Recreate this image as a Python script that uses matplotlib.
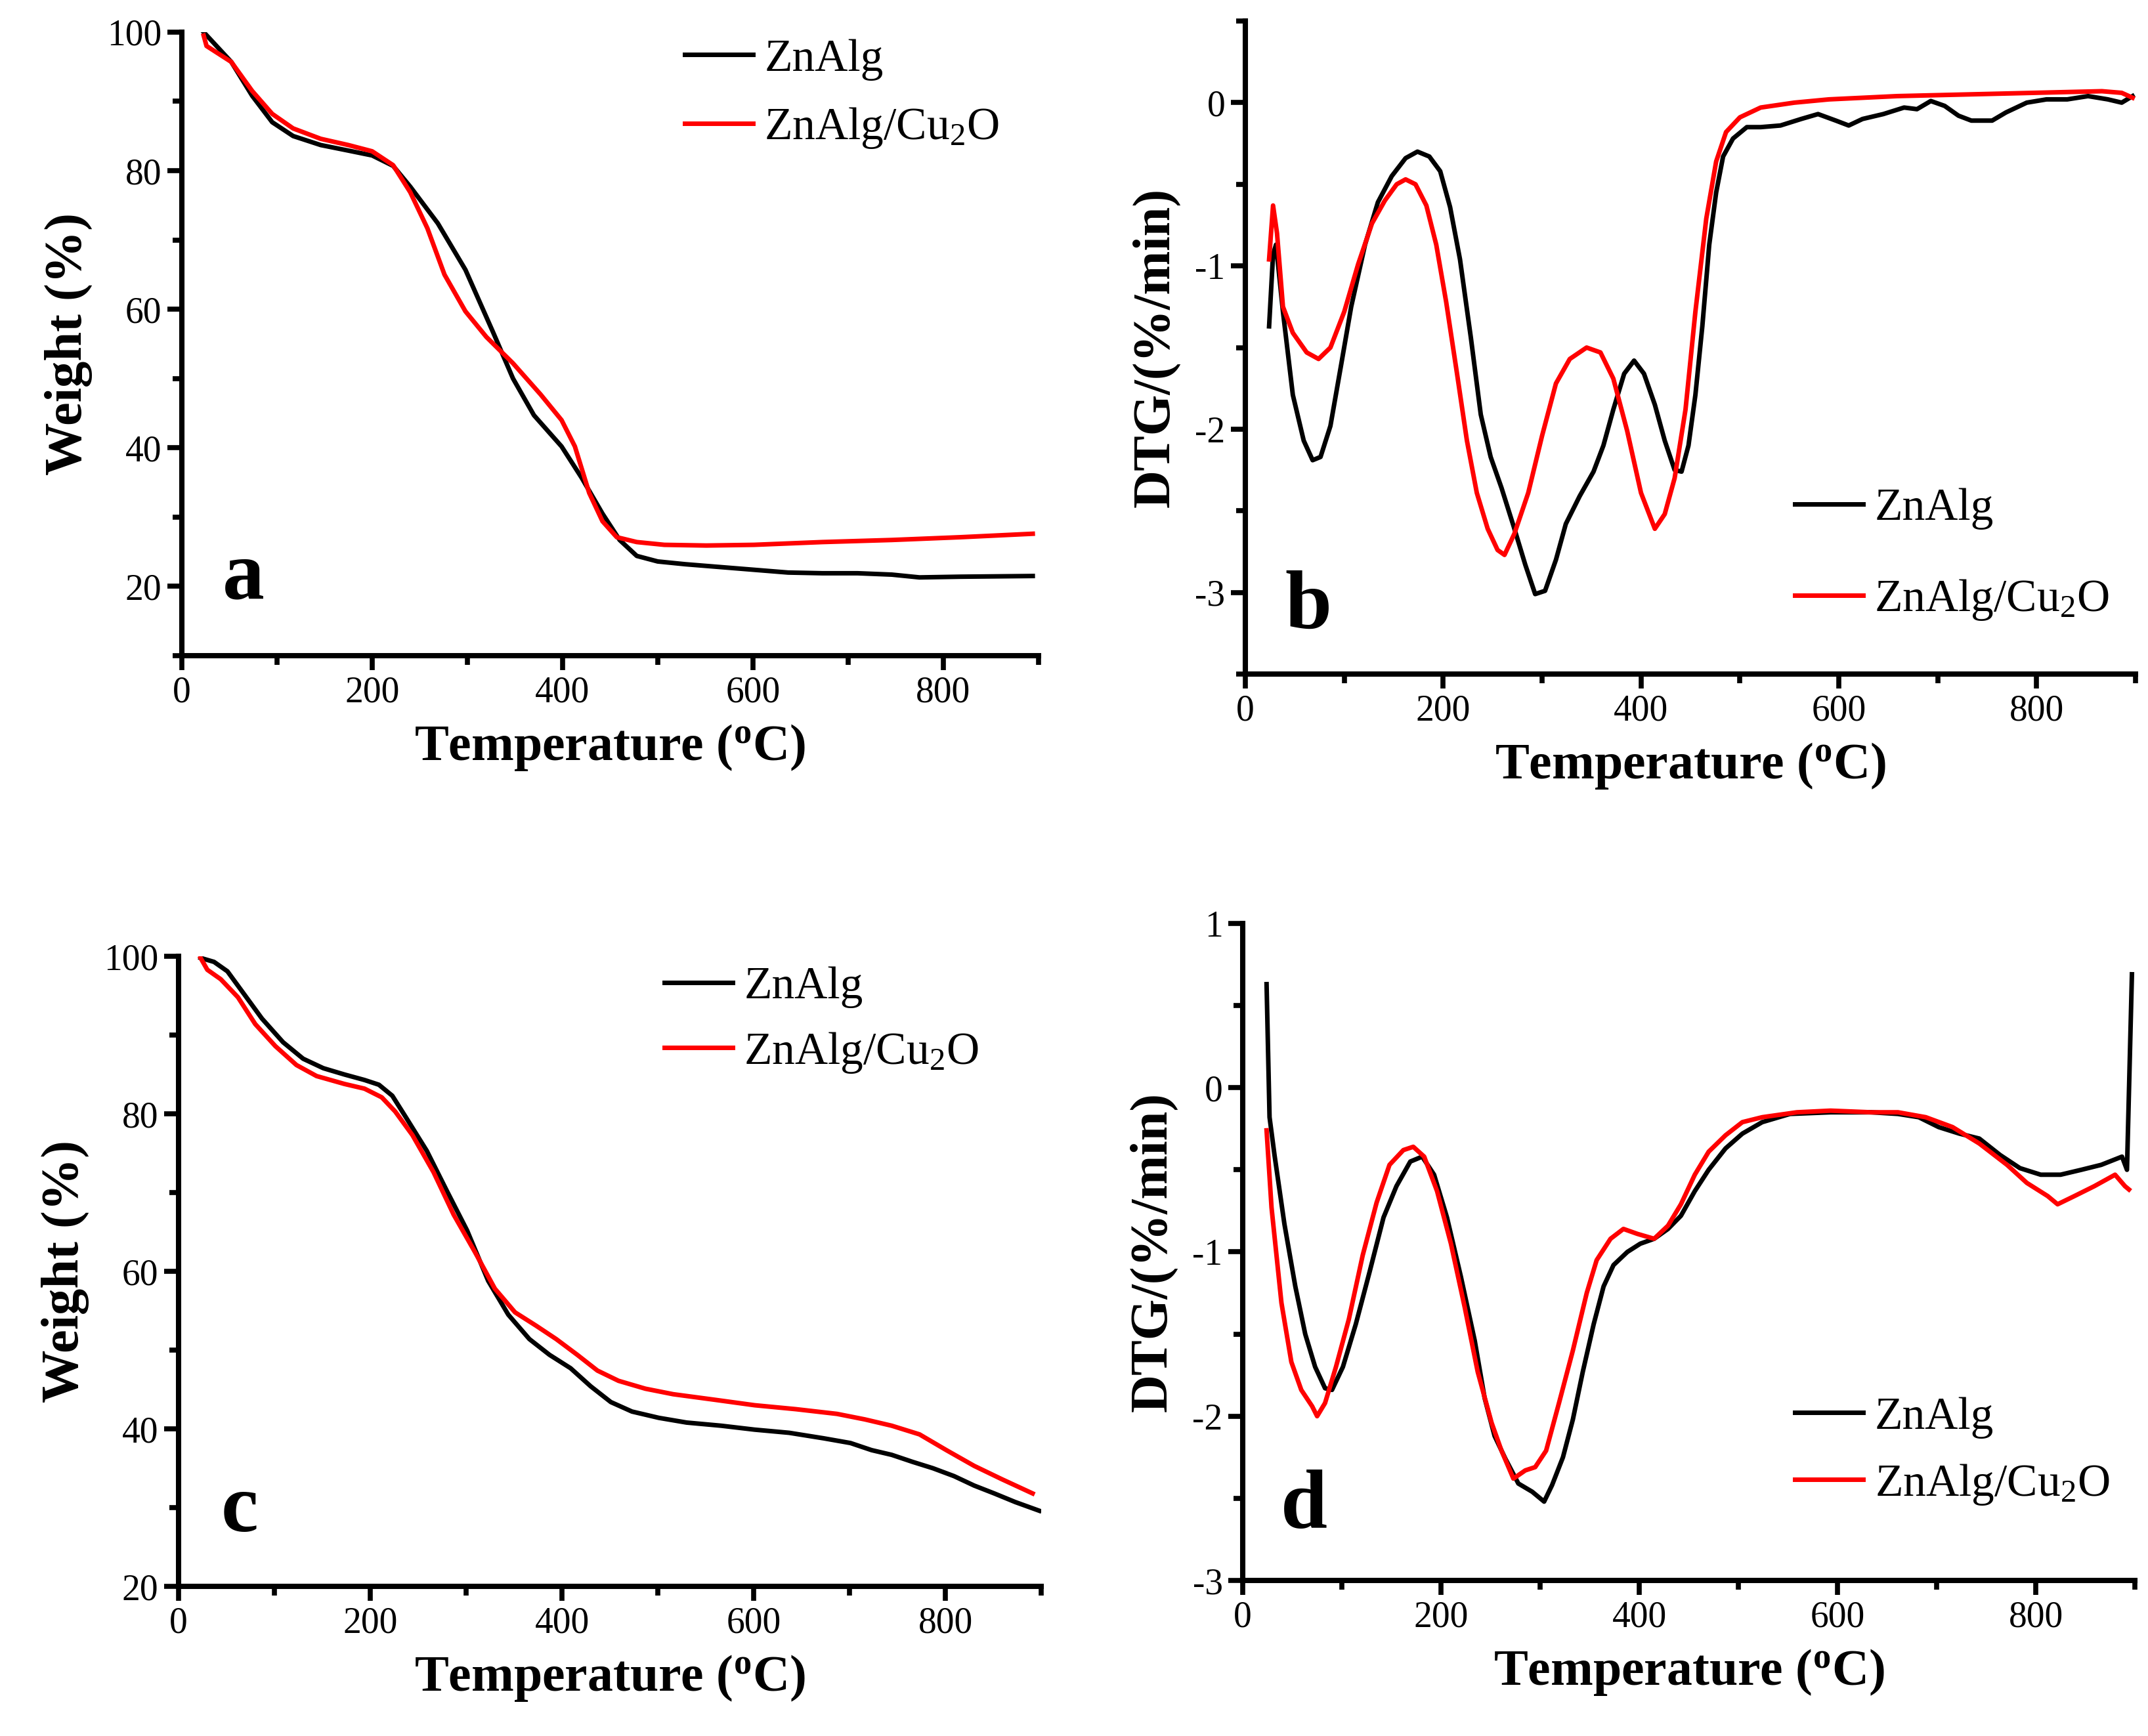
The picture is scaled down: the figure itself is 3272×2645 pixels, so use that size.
import numpy as np
import matplotlib
matplotlib.use("Agg")
import matplotlib.pyplot as plt
from matplotlib.ticker import MultipleLocator

plt.rcParams["font.family"] = ["Liberation Serif", "DejaVu Serif"]
plt.rcParams["mathtext.fontset"] = "custom"
plt.rcParams["mathtext.rm"] = "Liberation Serif"
plt.rcParams["mathtext.bf"] = "Liberation Serif:bold"
plt.rcParams["mathtext.it"] = "Liberation Serif:italic"
plt.rcParams["axes.unicode_minus"] = False

series_names = ["ZnAlg", "ZnAlg/Cu$_2$O"]
colors = ["black", "#ff0000"]

# panel a: TGA (weight %)
a_t_zn = [23, 52, 74, 95, 117, 146, 175, 200, 222, 240, 269, 298, 327, 348, 370, 399, 420, 442,
          460, 478, 500, 529, 565, 601, 637, 673, 710, 746, 775, 818, 894]
a_w_zn = [100, 95.7, 90.8, 87.0, 85.0, 83.7, 82.9, 82.2, 80.7, 77.7, 72.4, 65.7, 56.7, 50.0, 44.7,
          40.2, 35.7, 30.5, 26.7, 24.4, 23.6, 23.2, 22.8, 22.4, 22.0, 21.9, 21.9, 21.7, 21.3, 21.4, 21.5]
a_t_cu = [23, 26, 52, 74, 95, 117, 146, 175, 200, 222, 240, 258, 276, 298, 320, 348, 377, 399, 413,
          428, 442, 457, 478, 507, 551, 601, 673, 746, 818, 894]
a_w_cu = [99.5, 98.0, 95.7, 91.5, 88.2, 86.1, 84.6, 83.7, 82.8, 80.8, 76.9, 71.7, 65.0, 59.7, 56.0,
          52.2, 47.7, 44.0, 40.2, 33.5, 29.4, 27.1, 26.4, 26.0, 25.9, 26.0, 26.4, 26.7, 27.1, 27.6]

# panel b: DTG
b_t_zn = [24, 28, 31, 38, 48, 59, 68, 76, 86, 97, 107, 121, 134, 148, 162, 174, 186, 197, 207, 217,
          228, 238, 248, 259, 272, 283, 293, 303, 314, 324, 338, 352, 362, 372, 383, 393, 403, 414,
          424, 434, 441, 448, 455, 462, 469, 476, 483, 493, 507, 521, 541, 562, 579, 597, 610, 624,
          645, 666, 679, 693, 707, 721, 734, 755, 769, 790, 810, 831, 852, 872, 886, 897]
b_d_zn = [-1.37, -0.93, -0.87, -1.28, -1.79, -2.07, -2.19, -2.17, -1.98, -1.60, -1.25, -0.87, -0.61,
          -0.45, -0.34, -0.30, -0.33, -0.42, -0.64, -0.96, -1.44, -1.91, -2.17, -2.36, -2.61, -2.83,
          -3.01, -2.99, -2.80, -2.58, -2.41, -2.26, -2.10, -1.88, -1.66, -1.58, -1.66, -1.85, -2.07,
          -2.25, -2.26, -2.10, -1.79, -1.37, -0.87, -0.55, -0.33, -0.22, -0.15, -0.15, -0.14, -0.10,
          -0.07, -0.11, -0.14, -0.10, -0.07, -0.03, -0.04, 0.01, -0.02, -0.08, -0.11, -0.11, -0.06,
          0.00, 0.02, 0.02, 0.04, 0.02, 0.00, 0.04]
b_t_cu = [24, 28, 32, 38, 48, 62, 74, 86, 100, 114, 128, 141, 153, 162, 172, 183, 193, 203, 214, 224,
          234, 245, 255, 262, 272, 286, 300, 314, 328, 345, 359, 372, 386, 400, 414, 424, 434, 445,
          455, 466, 476, 486, 500, 521, 555, 590, 659, 728, 797, 866, 886, 897]
b_d_cu = [-0.96, -0.63, -0.80, -1.25, -1.41, -1.53, -1.57, -1.50, -1.28, -0.99, -0.74, -0.60, -0.50,
          -0.47, -0.50, -0.63, -0.87, -1.22, -1.66, -2.07, -2.39, -2.61, -2.74, -2.77, -2.64, -2.39,
          -2.04, -1.72, -1.57, -1.50, -1.53, -1.69, -2.01, -2.39, -2.61, -2.52, -2.30, -1.88, -1.28,
          -0.71, -0.36, -0.18, -0.09, -0.03, 0.00, 0.02, 0.04, 0.05, 0.06, 0.07, 0.06, 0.03]

# panel c: TGA (weight %)
c_t_zn = [23, 37, 51, 69, 87, 109, 130, 151, 173, 194, 209, 223, 237, 259, 280, 301, 323, 344, 366,
          387, 409, 430, 451, 473, 501, 530, 566, 601, 637, 673, 701, 723, 744, 766, 787, 809, 830,
          851, 873, 898]
c_w_zn = [99.8, 99.3, 98.1, 95.1, 92.1, 89.1, 87.0, 85.8, 85.0, 84.3, 83.7, 82.3, 79.6, 75.3, 70.2,
          65.2, 58.8, 54.5, 51.4, 49.4, 47.7, 45.4, 43.4, 42.2, 41.4, 40.8, 40.4, 39.9, 39.5, 38.8,
          38.2, 37.3, 36.7, 35.8, 35.0, 34.0, 32.8, 31.8, 30.7, 29.6]
c_t_cu = [23, 30, 44, 62, 80, 101, 123, 144, 173, 194, 212, 226, 244, 266, 287, 309, 330, 351, 373,
          394, 416, 437, 459, 487, 516, 559, 601, 644, 687, 716, 744, 773, 801, 830, 859, 891]
c_w_cu = [99.8, 98.3, 97.1, 94.8, 91.4, 88.6, 86.2, 84.8, 83.8, 83.2, 82.1, 80.3, 77.3, 72.6, 67.2,
          62.5, 57.8, 54.8, 53.1, 51.4, 49.4, 47.4, 46.1, 45.1, 44.4, 43.7, 43.0, 42.5, 41.9, 41.2,
          40.4, 39.3, 37.3, 35.3, 33.6, 31.8]

# panel d: DTG
d_t_zn = [24, 27, 32, 42, 53, 63, 73, 83, 90, 101, 114, 128, 142, 155, 169, 181, 193, 206, 220, 234,
          244, 254, 265, 278, 292, 304, 312, 323, 333, 343, 354, 364, 374, 388, 401, 415, 429, 442,
          456, 470, 487, 504, 524, 552, 593, 634, 661, 682, 702, 723, 743, 764, 784, 805, 825, 846,
          866, 887, 892, 897]
d_d_zn = [0.63, -0.18, -0.41, -0.83, -1.21, -1.50, -1.70, -1.83, -1.84, -1.70, -1.44, -1.12, -0.79,
          -0.60, -0.45, -0.42, -0.53, -0.79, -1.15, -1.54, -1.89, -2.12, -2.26, -2.41, -2.46, -2.52,
          -2.42, -2.25, -2.02, -1.73, -1.44, -1.21, -1.08, -1.00, -0.95, -0.92, -0.86, -0.78, -0.63,
          -0.50, -0.37, -0.28, -0.21, -0.16, -0.15, -0.15, -0.16, -0.18, -0.24, -0.28, -0.31, -0.41,
          -0.49, -0.53, -0.53, -0.50, -0.47, -0.42, -0.50, 0.69]
d_t_cu = [24, 29, 39, 49, 59, 70, 75, 83, 94, 107, 121, 135, 148, 162, 172, 183, 196, 210, 224, 237,
          251, 261, 273, 285, 295, 306, 319, 333, 347, 357, 371, 384, 398, 415, 429, 442, 456, 470,
          487, 504, 524, 559, 593, 634, 661, 689, 716, 743, 771, 791, 812, 822, 839, 859, 880, 890, 894]
d_d_cu = [-0.26, -0.73, -1.31, -1.67, -1.84, -1.94, -2.00, -1.92, -1.70, -1.41, -1.02, -0.70, -0.47,
          -0.38, -0.36, -0.42, -0.63, -0.95, -1.34, -1.73, -2.04, -2.21, -2.38, -2.33, -2.31, -2.21,
          -1.92, -1.60, -1.25, -1.05, -0.92, -0.86, -0.89, -0.92, -0.84, -0.71, -0.53, -0.39, -0.29,
          -0.21, -0.18, -0.15, -0.14, -0.15, -0.15, -0.18, -0.24, -0.34, -0.47, -0.58, -0.66, -0.71,
          -0.66, -0.60, -0.53, -0.60, -0.62]

fig = plt.figure(figsize=(32.73, 26.45), dpi=100)

panels = [
    # rect, data, ylim, yticks major/minor, ylabel, letter, letter pos, legend pos, legend spacing
    ([0.0846, 0.6223, 0.3987, 0.3592], (a_t_zn, a_w_zn, a_t_cu, a_w_cu), (10, 100), 20, 10,
     "Weight (%)", "a", (0.072, 0.092), (0.587, 0.900), 0.55),
    ([0.5796, 0.6117, 0.4143, 0.3762], (b_t_zn, b_d_zn, b_t_cu, b_d_cu), (-3.5, 0.5), 1, 0.5,
     "DTG/(%/min)", "b", (0.071, 0.071), (0.617, 0.182), 1.05),
    ([0.0831, 0.0862, 0.4015, 0.3629], (c_t_zn, c_w_zn, c_t_cu, c_w_cu), (20, 100), 20, 10,
     "Weight (%)", "c", (0.071, 0.0875), (0.563, 0.898), 0.48),
    ([0.5784, 0.0896, 0.4152, 0.3785], (d_t_zn, d_d_zn, d_t_cu, d_d_cu), (-3, 1), 1, 0.5,
     "DTG/(%/min)", "d", (0.069, 0.081), (0.619, 0.196), 0.52),
]

for rect, data, ylim, ymaj, ymin, ylabel, letter, lpos, legpos, lspace in panels:
    ax = fig.add_axes(rect)
    t1, v1, t2, v2 = data
    ax.plot(t1, v1, color=colors[0], lw=5, label=series_names[0], solid_joinstyle="round")
    ax.plot(t2, v2, color=colors[1], lw=5, label=series_names[1], solid_joinstyle="round")
    ax.set_xlim(0, 900)
    ax.set_ylim(*ylim)
    ax.xaxis.set_major_locator(MultipleLocator(200))
    ax.xaxis.set_minor_locator(MultipleLocator(100))
    ax.yaxis.set_major_locator(MultipleLocator(ymaj))
    ax.yaxis.set_minor_locator(MultipleLocator(ymin))
    for s in ["top", "right"]:
        ax.spines[s].set_visible(False)
    for s in ["left", "bottom"]:
        ax.spines[s].set_linewidth(5.8)
    ax.tick_params(which="major", direction="out", length=16, width=5.5, labelsize=40, pad=6)
    ax.tick_params(which="minor", direction="out", length=10, width=5.5)
    ax.set_xlabel("Temperature ($^{\\mathbf{o}}$C)", fontsize=56, fontweight="bold", labelpad=14)
    ax.set_ylabel(ylabel, fontsize=58, fontweight="bold", labelpad=16)
    ax.text(lpos[0], lpos[1], letter, transform=ax.transAxes, ha="center", va="baseline",
            fontsize=92, fontweight="bold")
    ax.legend(loc="center left", bbox_to_anchor=legpos, frameon=False, fontsize=50,
              handlelength=1.5, handletextpad=0.25, labelspacing=lspace, borderpad=0,
              borderaxespad=0)

fig.savefig("out.png", dpi=100)
